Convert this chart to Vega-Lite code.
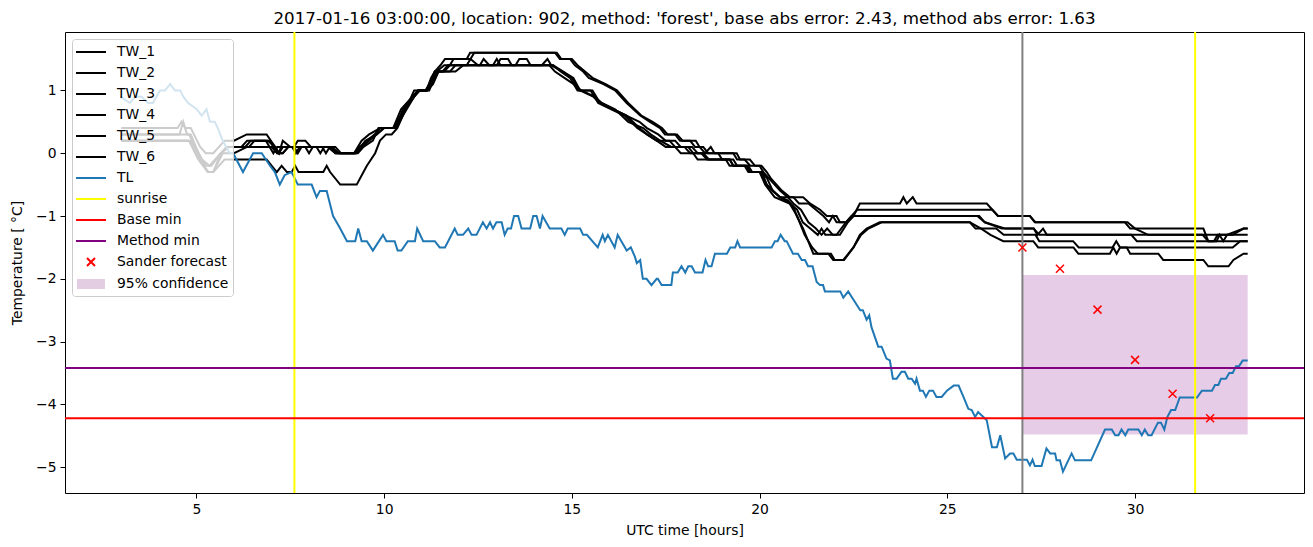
{
  "$schema": "https://vega.github.io/schema/vega-lite/v6.json",
  "width": 1239,
  "height": 461,
  "autosize": {"type": "none"},
  "padding": {"left": 65, "top": 32, "right": 9, "bottom": 54},
  "title": {"text": "2017-01-16 03:00:00, location: 902, method: 'forest', base abs error: 2.43, method abs error: 1.63", "font": "DejaVu Sans", "fontSize": 16.7, "fontWeight": "normal", "color": "#000", "offset": 3},
  "config": {
    "view": {"stroke": "#000", "strokeWidth": 1},
    "axis": {"domain": false, "grid": false, "tickColor": "#000", "tickSize": 5, "tickWidth": 1, "labelFont": "DejaVu Sans", "labelFontSize": 13.9, "labelColor": "#000", "labelPadding": 4, "titleFont": "DejaVu Sans", "titleFontSize": 13.9, "titleFontWeight": "normal", "titleColor": "#000"},
    "legend": {"labelFont": "DejaVu Sans", "labelFontSize": 13.9, "labelColor": "#000"}
  },
  "datasets": {
    "tw": [
      {"s":"TW_1","x":3.0,"y":0.4},{"s":"TW_1","x":4.5,"y":0.4},{"s":"TW_1","x":4.6,"y":0.5},{"s":"TW_1","x":4.7,"y":0.4},{"s":"TW_1","x":4.85,"y":0.4},{"s":"TW_1","x":5.1,"y":0.1},{"s":"TW_1","x":5.25,"y":0.0},{"s":"TW_1","x":5.45,"y":0.0},{"s":"TW_1","x":5.75,"y":0.2},{"s":"TW_1","x":6.0,"y":0.2},{"s":"TW_1","x":6.34,"y":0.3},{"s":"TW_1","x":6.87,"y":0.3},{"s":"TW_1","x":7.1,"y":0.1},{"s":"TW_1","x":7.2,"y":0.0},{"s":"TW_1","x":7.3,"y":0.2},{"s":"TW_1","x":7.5,"y":0.1},{"s":"TW_1","x":7.6,"y":0.1},{"s":"TW_1","x":7.7,"y":0.2},{"s":"TW_1","x":7.9,"y":0.2},{"s":"TW_1","x":8.05,"y":0.1},{"s":"TW_1","x":8.6,"y":0.1},{"s":"TW_1","x":8.8,"y":0.0},{"s":"TW_1","x":9.2,"y":0.0},{"s":"TW_1","x":9.4,"y":0.2},{"s":"TW_1","x":9.6,"y":0.3},{"s":"TW_1","x":9.9,"y":0.4},{"s":"TW_1","x":10.24,"y":0.4},{"s":"TW_1","x":10.45,"y":0.7},{"s":"TW_1","x":10.9,"y":1.0},{"s":"TW_1","x":11.13,"y":1.0},{"s":"TW_1","x":11.35,"y":1.3},{"s":"TW_1","x":11.5,"y":1.4},{"s":"TW_1","x":11.62,"y":1.5},{"s":"TW_1","x":12.2,"y":1.5},{"s":"TW_1","x":12.29,"y":1.6},{"s":"TW_1","x":14.55,"y":1.6},{"s":"TW_1","x":14.68,"y":1.5},{"s":"TW_1","x":14.95,"y":1.5},{"s":"TW_1","x":15.08,"y":1.4},{"s":"TW_1","x":15.3,"y":1.3},{"s":"TW_1","x":15.45,"y":1.2},{"s":"TW_1","x":15.84,"y":1.1},{"s":"TW_1","x":16.15,"y":1.0},{"s":"TW_1","x":16.46,"y":0.8},{"s":"TW_1","x":16.82,"y":0.6},{"s":"TW_1","x":17.08,"y":0.5},{"s":"TW_1","x":17.35,"y":0.4},{"s":"TW_1","x":17.48,"y":0.3},{"s":"TW_1","x":17.75,"y":0.3},{"s":"TW_1","x":17.88,"y":0.2},{"s":"TW_1","x":18.15,"y":0.2},{"s":"TW_1","x":18.28,"y":0.1},{"s":"TW_1","x":18.5,"y":0.1},{"s":"TW_1","x":18.63,"y":0.0},{"s":"TW_1","x":19.39,"y":0.0},{"s":"TW_1","x":19.48,"y":-0.1},{"s":"TW_1","x":19.74,"y":-0.1},{"s":"TW_1","x":19.88,"y":-0.2},{"s":"TW_1","x":20.05,"y":-0.2},{"s":"TW_1","x":20.19,"y":-0.3},{"s":"TW_1","x":20.3,"y":-0.4},{"s":"TW_1","x":20.45,"y":-0.5},{"s":"TW_1","x":20.6,"y":-0.6},{"s":"TW_1","x":20.81,"y":-0.7},{"s":"TW_1","x":21.16,"y":-0.7},{"s":"TW_1","x":21.34,"y":-0.8},{"s":"TW_1","x":21.61,"y":-0.9},{"s":"TW_1","x":21.79,"y":-1.0},{"s":"TW_1","x":22.05,"y":-1.0},{"s":"TW_1","x":22.14,"y":-1.1},{"s":"TW_1","x":22.32,"y":-1.1},{"s":"TW_1","x":22.5,"y":-1.0},{"s":"TW_1","x":22.67,"y":-0.8},{"s":"TW_1","x":23.74,"y":-0.8},{"s":"TW_1","x":23.83,"y":-0.7},{"s":"TW_1","x":23.92,"y":-0.8},{"s":"TW_1","x":24.08,"y":-0.7},{"s":"TW_1","x":24.18,"y":-0.8},{"s":"TW_1","x":26.05,"y":-0.8},{"s":"TW_1","x":26.2,"y":-0.9},{"s":"TW_1","x":26.35,"y":-1.0},{"s":"TW_1","x":27.2,"y":-1.0},{"s":"TW_1","x":27.33,"y":-1.1},{"s":"TW_1","x":29.73,"y":-1.1},{"s":"TW_1","x":29.87,"y":-1.2},{"s":"TW_1","x":31.82,"y":-1.2},{"s":"TW_1","x":31.95,"y":-1.4},{"s":"TW_1","x":32.17,"y":-1.4},{"s":"TW_1","x":32.25,"y":-1.3},{"s":"TW_1","x":32.35,"y":-1.4},{"s":"TW_1","x":32.45,"y":-1.3},{"s":"TW_1","x":32.89,"y":-1.2},{"s":"TW_1","x":33.0,"y":-1.2},
      {"s":"TW_2","x":3.0,"y":0.3},{"s":"TW_2","x":4.8,"y":0.3},{"s":"TW_2","x":5.15,"y":-0.1},{"s":"TW_2","x":5.35,"y":-0.2},{"s":"TW_2","x":5.5,"y":-0.1},{"s":"TW_2","x":5.8,"y":0.1},{"s":"TW_2","x":6.0,"y":0.1},{"s":"TW_2","x":6.2,"y":0.1},{"s":"TW_2","x":6.35,"y":0.2},{"s":"TW_2","x":6.95,"y":0.2},{"s":"TW_2","x":7.15,"y":0.0},{"s":"TW_2","x":7.3,"y":0.0},{"s":"TW_2","x":7.45,"y":0.1},{"s":"TW_2","x":7.9,"y":0.1},{"s":"TW_2","x":8.0,"y":0.0},{"s":"TW_2","x":8.1,"y":0.1},{"s":"TW_2","x":8.5,"y":0.1},{"s":"TW_2","x":8.7,"y":0.0},{"s":"TW_2","x":9.25,"y":0.0},{"s":"TW_2","x":9.5,"y":0.2},{"s":"TW_2","x":9.8,"y":0.3},{"s":"TW_2","x":10.0,"y":0.4},{"s":"TW_2","x":10.3,"y":0.4},{"s":"TW_2","x":10.5,"y":0.7},{"s":"TW_2","x":10.8,"y":0.9},{"s":"TW_2","x":10.95,"y":1.0},{"s":"TW_2","x":11.2,"y":1.0},{"s":"TW_2","x":11.4,"y":1.3},{"s":"TW_2","x":11.6,"y":1.4},{"s":"TW_2","x":11.75,"y":1.4},{"s":"TW_2","x":11.85,"y":1.5},{"s":"TW_2","x":12.3,"y":1.5},{"s":"TW_2","x":12.4,"y":1.6},{"s":"TW_2","x":14.6,"y":1.6},{"s":"TW_2","x":14.72,"y":1.5},{"s":"TW_2","x":15.0,"y":1.5},{"s":"TW_2","x":15.15,"y":1.4},{"s":"TW_2","x":15.35,"y":1.3},{"s":"TW_2","x":15.55,"y":1.2},{"s":"TW_2","x":15.9,"y":1.1},{"s":"TW_2","x":16.2,"y":1.0},{"s":"TW_2","x":16.5,"y":0.8},{"s":"TW_2","x":16.85,"y":0.6},{"s":"TW_2","x":17.15,"y":0.5},{"s":"TW_2","x":17.4,"y":0.4},{"s":"TW_2","x":17.55,"y":0.3},{"s":"TW_2","x":17.8,"y":0.3},{"s":"TW_2","x":17.95,"y":0.2},{"s":"TW_2","x":18.3,"y":0.2},{"s":"TW_2","x":18.4,"y":0.1},{"s":"TW_2","x":18.55,"y":0.0},{"s":"TW_2","x":18.7,"y":0.1},{"s":"TW_2","x":18.8,"y":0.0},{"s":"TW_2","x":19.3,"y":0.0},{"s":"TW_2","x":19.4,"y":-0.1},{"s":"TW_2","x":19.6,"y":-0.1},{"s":"TW_2","x":19.75,"y":-0.2},{"s":"TW_2","x":20.0,"y":-0.2},{"s":"TW_2","x":20.1,"y":-0.3},{"s":"TW_2","x":20.25,"y":-0.4},{"s":"TW_2","x":20.4,"y":-0.5},{"s":"TW_2","x":20.55,"y":-0.6},{"s":"TW_2","x":20.75,"y":-0.7},{"s":"TW_2","x":20.9,"y":-0.7},{"s":"TW_2","x":21.05,"y":-0.8},{"s":"TW_2","x":21.3,"y":-0.8},{"s":"TW_2","x":21.5,"y":-0.9},{"s":"TW_2","x":21.7,"y":-1.0},{"s":"TW_2","x":21.85,"y":-1.1},{"s":"TW_2","x":21.95,"y":-1.0},{"s":"TW_2","x":22.05,"y":-1.1},{"s":"TW_2","x":22.3,"y":-1.1},{"s":"TW_2","x":22.45,"y":-1.0},{"s":"TW_2","x":22.6,"y":-0.9},{"s":"TW_2","x":26.2,"y":-0.9},{"s":"TW_2","x":26.35,"y":-1.0},{"s":"TW_2","x":27.2,"y":-1.0},{"s":"TW_2","x":27.35,"y":-1.1},{"s":"TW_2","x":29.8,"y":-1.1},{"s":"TW_2","x":30.0,"y":-1.2},{"s":"TW_2","x":30.35,"y":-1.3},{"s":"TW_2","x":32.6,"y":-1.3},{"s":"TW_2","x":32.89,"y":-1.2},{"s":"TW_2","x":33.0,"y":-1.2},
      {"s":"TW_3","x":3.0,"y":0.3},{"s":"TW_3","x":4.55,"y":0.3},{"s":"TW_3","x":4.65,"y":0.5},{"s":"TW_3","x":4.75,"y":0.3},{"s":"TW_3","x":4.85,"y":0.3},{"s":"TW_3","x":5.2,"y":-0.2},{"s":"TW_3","x":5.32,"y":-0.3},{"s":"TW_3","x":5.45,"y":-0.3},{"s":"TW_3","x":5.65,"y":0.0},{"s":"TW_3","x":5.85,"y":0.1},{"s":"TW_3","x":6.0,"y":0.1},{"s":"TW_3","x":6.3,"y":0.1},{"s":"TW_3","x":6.45,"y":0.2},{"s":"TW_3","x":6.9,"y":0.2},{"s":"TW_3","x":7.1,"y":0.1},{"s":"TW_3","x":7.2,"y":0.0},{"s":"TW_3","x":7.3,"y":0.1},{"s":"TW_3","x":7.6,"y":0.1},{"s":"TW_3","x":7.7,"y":0.0},{"s":"TW_3","x":7.8,"y":0.1},{"s":"TW_3","x":8.2,"y":0.1},{"s":"TW_3","x":8.3,"y":0.0},{"s":"TW_3","x":8.4,"y":0.1},{"s":"TW_3","x":8.6,"y":0.1},{"s":"TW_3","x":8.75,"y":0.0},{"s":"TW_3","x":9.2,"y":0.0},{"s":"TW_3","x":9.35,"y":0.1},{"s":"TW_3","x":9.55,"y":0.2},{"s":"TW_3","x":9.75,"y":0.3},{"s":"TW_3","x":9.9,"y":0.4},{"s":"TW_3","x":10.3,"y":0.4},{"s":"TW_3","x":10.5,"y":0.6},{"s":"TW_3","x":10.7,"y":0.8},{"s":"TW_3","x":10.9,"y":1.0},{"s":"TW_3","x":11.1,"y":1.0},{"s":"TW_3","x":11.3,"y":1.2},{"s":"TW_3","x":11.45,"y":1.3},{"s":"TW_3","x":11.75,"y":1.3},{"s":"TW_3","x":11.9,"y":1.4},{"s":"TW_3","x":12.55,"y":1.4},{"s":"TW_3","x":12.65,"y":1.5},{"s":"TW_3","x":12.8,"y":1.4},{"s":"TW_3","x":13.0,"y":1.4},{"s":"TW_3","x":13.1,"y":1.5},{"s":"TW_3","x":13.3,"y":1.5},{"s":"TW_3","x":13.4,"y":1.4},{"s":"TW_3","x":14.2,"y":1.4},{"s":"TW_3","x":14.35,"y":1.5},{"s":"TW_3","x":14.45,"y":1.4},{"s":"TW_3","x":14.75,"y":1.3},{"s":"TW_3","x":15.0,"y":1.2},{"s":"TW_3","x":15.2,"y":1.0},{"s":"TW_3","x":15.55,"y":1.0},{"s":"TW_3","x":15.75,"y":0.8},{"s":"TW_3","x":16.1,"y":0.7},{"s":"TW_3","x":16.45,"y":0.6},{"s":"TW_3","x":16.8,"y":0.5},{"s":"TW_3","x":17.0,"y":0.4},{"s":"TW_3","x":17.3,"y":0.3},{"s":"TW_3","x":17.5,"y":0.2},{"s":"TW_3","x":17.75,"y":0.2},{"s":"TW_3","x":17.9,"y":0.1},{"s":"TW_3","x":18.2,"y":0.1},{"s":"TW_3","x":18.35,"y":0.0},{"s":"TW_3","x":18.9,"y":0.0},{"s":"TW_3","x":19.0,"y":-0.1},{"s":"TW_3","x":19.3,"y":-0.1},{"s":"TW_3","x":19.4,"y":-0.2},{"s":"TW_3","x":19.7,"y":-0.2},{"s":"TW_3","x":19.8,"y":-0.3},{"s":"TW_3","x":20.05,"y":-0.3},{"s":"TW_3","x":20.2,"y":-0.4},{"s":"TW_3","x":20.35,"y":-0.6},{"s":"TW_3","x":20.55,"y":-0.7},{"s":"TW_3","x":20.8,"y":-0.8},{"s":"TW_3","x":21.0,"y":-0.9},{"s":"TW_3","x":21.15,"y":-1.1},{"s":"TW_3","x":21.35,"y":-1.2},{"s":"TW_3","x":21.55,"y":-1.3},{"s":"TW_3","x":21.65,"y":-1.2},{"s":"TW_3","x":21.75,"y":-1.3},{"s":"TW_3","x":22.05,"y":-1.3},{"s":"TW_3","x":22.3,"y":-1.1},{"s":"TW_3","x":22.45,"y":-1.0},{"s":"TW_3","x":25.8,"y":-1.0},{"s":"TW_3","x":26.0,"y":-1.1},{"s":"TW_3","x":26.55,"y":-1.2},{"s":"TW_3","x":27.3,"y":-1.2},{"s":"TW_3","x":27.45,"y":-1.3},{"s":"TW_3","x":29.9,"y":-1.3},{"s":"TW_3","x":30.05,"y":-1.4},{"s":"TW_3","x":33.0,"y":-1.4},
      {"s":"TW_4","x":3.0,"y":0.2},{"s":"TW_4","x":4.85,"y":0.2},{"s":"TW_4","x":5.1,"y":-0.1},{"s":"TW_4","x":5.3,"y":-0.3},{"s":"TW_4","x":5.45,"y":-0.3},{"s":"TW_4","x":5.7,"y":0.0},{"s":"TW_4","x":6.0,"y":0.0},{"s":"TW_4","x":6.35,"y":0.1},{"s":"TW_4","x":7.0,"y":0.1},{"s":"TW_4","x":7.15,"y":0.0},{"s":"TW_4","x":7.3,"y":0.0},{"s":"TW_4","x":7.45,"y":0.1},{"s":"TW_4","x":8.55,"y":0.1},{"s":"TW_4","x":8.7,"y":0.0},{"s":"TW_4","x":9.25,"y":0.0},{"s":"TW_4","x":9.4,"y":0.1},{"s":"TW_4","x":9.6,"y":0.2},{"s":"TW_4","x":9.8,"y":0.3},{"s":"TW_4","x":10.0,"y":0.4},{"s":"TW_4","x":10.3,"y":0.4},{"s":"TW_4","x":10.55,"y":0.7},{"s":"TW_4","x":10.8,"y":0.9},{"s":"TW_4","x":10.95,"y":1.0},{"s":"TW_4","x":11.15,"y":1.0},{"s":"TW_4","x":11.35,"y":1.3},{"s":"TW_4","x":11.55,"y":1.3},{"s":"TW_4","x":11.7,"y":1.4},{"s":"TW_4","x":12.2,"y":1.4},{"s":"TW_4","x":12.3,"y":1.5},{"s":"TW_4","x":12.5,"y":1.4},{"s":"TW_4","x":14.5,"y":1.4},{"s":"TW_4","x":14.7,"y":1.3},{"s":"TW_4","x":14.95,"y":1.2},{"s":"TW_4","x":15.15,"y":1.0},{"s":"TW_4","x":15.5,"y":1.0},{"s":"TW_4","x":15.7,"y":0.8},{"s":"TW_4","x":16.05,"y":0.7},{"s":"TW_4","x":16.4,"y":0.6},{"s":"TW_4","x":16.75,"y":0.4},{"s":"TW_4","x":17.0,"y":0.3},{"s":"TW_4","x":17.26,"y":0.2},{"s":"TW_4","x":17.6,"y":0.2},{"s":"TW_4","x":17.75,"y":0.1},{"s":"TW_4","x":18.1,"y":0.1},{"s":"TW_4","x":18.23,"y":0.0},{"s":"TW_4","x":18.45,"y":0.0},{"s":"TW_4","x":18.6,"y":-0.1},{"s":"TW_4","x":19.2,"y":-0.1},{"s":"TW_4","x":19.3,"y":-0.2},{"s":"TW_4","x":19.66,"y":-0.2},{"s":"TW_4","x":19.74,"y":-0.3},{"s":"TW_4","x":20.05,"y":-0.3},{"s":"TW_4","x":20.19,"y":-0.5},{"s":"TW_4","x":20.35,"y":-0.6},{"s":"TW_4","x":20.54,"y":-0.7},{"s":"TW_4","x":20.75,"y":-0.7},{"s":"TW_4","x":20.9,"y":-0.8},{"s":"TW_4","x":21.1,"y":-0.9},{"s":"TW_4","x":21.3,"y":-1.1},{"s":"TW_4","x":21.5,"y":-1.2},{"s":"TW_4","x":21.65,"y":-1.3},{"s":"TW_4","x":21.8,"y":-1.2},{"s":"TW_4","x":21.95,"y":-1.3},{"s":"TW_4","x":22.14,"y":-1.3},{"s":"TW_4","x":22.35,"y":-1.1},{"s":"TW_4","x":22.5,"y":-1.0},{"s":"TW_4","x":25.85,"y":-1.0},{"s":"TW_4","x":26.0,"y":-1.1},{"s":"TW_4","x":26.45,"y":-1.2},{"s":"TW_4","x":27.3,"y":-1.2},{"s":"TW_4","x":27.4,"y":-1.3},{"s":"TW_4","x":27.55,"y":-1.2},{"s":"TW_4","x":27.65,"y":-1.3},{"s":"TW_4","x":31.8,"y":-1.3},{"s":"TW_4","x":31.95,"y":-1.4},{"s":"TW_4","x":32.1,"y":-1.4},{"s":"TW_4","x":32.2,"y":-1.3},{"s":"TW_4","x":33.0,"y":-1.3},
      {"s":"TW_5","x":3.0,"y":0.2},{"s":"TW_5","x":4.8,"y":0.2},{"s":"TW_5","x":5.05,"y":0.0},{"s":"TW_5","x":5.25,"y":-0.2},{"s":"TW_5","x":5.4,"y":-0.2},{"s":"TW_5","x":5.65,"y":0.0},{"s":"TW_5","x":5.85,"y":0.1},{"s":"TW_5","x":6.4,"y":0.1},{"s":"TW_5","x":6.55,"y":0.2},{"s":"TW_5","x":6.85,"y":0.2},{"s":"TW_5","x":7.05,"y":0.0},{"s":"TW_5","x":7.15,"y":0.1},{"s":"TW_5","x":7.55,"y":0.1},{"s":"TW_5","x":7.65,"y":0.0},{"s":"TW_5","x":7.75,"y":0.1},{"s":"TW_5","x":8.35,"y":0.1},{"s":"TW_5","x":8.45,"y":0.0},{"s":"TW_5","x":8.55,"y":0.1},{"s":"TW_5","x":8.7,"y":0.1},{"s":"TW_5","x":8.85,"y":0.0},{"s":"TW_5","x":9.3,"y":0.0},{"s":"TW_5","x":9.45,"y":0.1},{"s":"TW_5","x":9.7,"y":0.2},{"s":"TW_5","x":9.85,"y":0.4},{"s":"TW_5","x":10.25,"y":0.4},{"s":"TW_5","x":10.45,"y":0.6},{"s":"TW_5","x":10.65,"y":0.8},{"s":"TW_5","x":10.9,"y":1.0},{"s":"TW_5","x":11.15,"y":1.0},{"s":"TW_5","x":11.3,"y":1.1},{"s":"TW_5","x":11.45,"y":1.3},{"s":"TW_5","x":11.6,"y":1.3},{"s":"TW_5","x":11.75,"y":1.4},{"s":"TW_5","x":12.9,"y":1.4},{"s":"TW_5","x":13.0,"y":1.5},{"s":"TW_5","x":13.1,"y":1.4},{"s":"TW_5","x":13.5,"y":1.4},{"s":"TW_5","x":13.6,"y":1.5},{"s":"TW_5","x":13.8,"y":1.5},{"s":"TW_5","x":13.9,"y":1.4},{"s":"TW_5","x":14.4,"y":1.4},{"s":"TW_5","x":14.55,"y":1.3},{"s":"TW_5","x":14.8,"y":1.2},{"s":"TW_5","x":15.05,"y":1.1},{"s":"TW_5","x":15.25,"y":1.0},{"s":"TW_5","x":15.6,"y":0.9},{"s":"TW_5","x":15.8,"y":0.8},{"s":"TW_5","x":16.15,"y":0.7},{"s":"TW_5","x":16.5,"y":0.5},{"s":"TW_5","x":16.9,"y":0.4},{"s":"TW_5","x":17.1,"y":0.3},{"s":"TW_5","x":17.35,"y":0.2},{"s":"TW_5","x":17.65,"y":0.1},{"s":"TW_5","x":18.0,"y":0.1},{"s":"TW_5","x":18.15,"y":0.0},{"s":"TW_5","x":18.5,"y":0.0},{"s":"TW_5","x":18.65,"y":-0.1},{"s":"TW_5","x":19.1,"y":-0.1},{"s":"TW_5","x":19.2,"y":-0.2},{"s":"TW_5","x":19.6,"y":-0.2},{"s":"TW_5","x":19.7,"y":-0.3},{"s":"TW_5","x":20.0,"y":-0.3},{"s":"TW_5","x":20.15,"y":-0.5},{"s":"TW_5","x":20.4,"y":-0.7},{"s":"TW_5","x":20.8,"y":-0.8},{"s":"TW_5","x":21.0,"y":-1.0},{"s":"TW_5","x":21.2,"y":-1.3},{"s":"TW_5","x":21.4,"y":-1.5},{"s":"TW_5","x":21.55,"y":-1.6},{"s":"TW_5","x":21.9,"y":-1.6},{"s":"TW_5","x":22.0,"y":-1.7},{"s":"TW_5","x":22.25,"y":-1.7},{"s":"TW_5","x":22.5,"y":-1.5},{"s":"TW_5","x":22.7,"y":-1.3},{"s":"TW_5","x":22.9,"y":-1.2},{"s":"TW_5","x":23.25,"y":-1.1},{"s":"TW_5","x":25.6,"y":-1.1},{"s":"TW_5","x":25.75,"y":-1.2},{"s":"TW_5","x":26.3,"y":-1.2},{"s":"TW_5","x":26.5,"y":-1.3},{"s":"TW_5","x":27.35,"y":-1.3},{"s":"TW_5","x":27.45,"y":-1.4},{"s":"TW_5","x":28.35,"y":-1.4},{"s":"TW_5","x":28.5,"y":-1.5},{"s":"TW_5","x":29.4,"y":-1.5},{"s":"TW_5","x":29.5,"y":-1.4},{"s":"TW_5","x":29.6,"y":-1.5},{"s":"TW_5","x":32.6,"y":-1.5},{"s":"TW_5","x":32.8,"y":-1.4},{"s":"TW_5","x":33.0,"y":-1.4},
      {"s":"TW_6","x":3.0,"y":0.2},{"s":"TW_6","x":4.8,"y":0.2},{"s":"TW_6","x":5.05,"y":-0.1},{"s":"TW_6","x":5.3,"y":-0.3},{"s":"TW_6","x":5.45,"y":-0.3},{"s":"TW_6","x":5.75,"y":-0.1},{"s":"TW_6","x":6.87,"y":-0.1},{"s":"TW_6","x":7.14,"y":-0.3},{"s":"TW_6","x":7.27,"y":-0.2},{"s":"TW_6","x":7.41,"y":-0.3},{"s":"TW_6","x":7.54,"y":-0.3},{"s":"TW_6","x":7.63,"y":-0.2},{"s":"TW_6","x":7.72,"y":-0.3},{"s":"TW_6","x":8.38,"y":-0.3},{"s":"TW_6","x":8.47,"y":-0.2},{"s":"TW_6","x":8.56,"y":-0.3},{"s":"TW_6","x":8.83,"y":-0.5},{"s":"TW_6","x":9.27,"y":-0.5},{"s":"TW_6","x":9.45,"y":-0.3},{"s":"TW_6","x":9.54,"y":-0.2},{"s":"TW_6","x":9.76,"y":0.0},{"s":"TW_6","x":9.89,"y":0.2},{"s":"TW_6","x":10.05,"y":0.3},{"s":"TW_6","x":10.2,"y":0.3},{"s":"TW_6","x":10.35,"y":0.4},{"s":"TW_6","x":10.5,"y":0.6},{"s":"TW_6","x":10.65,"y":0.8},{"s":"TW_6","x":10.8,"y":1.0},{"s":"TW_6","x":11.13,"y":1.0},{"s":"TW_6","x":11.25,"y":1.2},{"s":"TW_6","x":11.35,"y":1.3},{"s":"TW_6","x":11.9,"y":1.3},{"s":"TW_6","x":12.11,"y":1.4},{"s":"TW_6","x":14.5,"y":1.4},{"s":"TW_6","x":14.77,"y":1.3},{"s":"TW_6","x":15.04,"y":1.2},{"s":"TW_6","x":15.22,"y":1.0},{"s":"TW_6","x":15.57,"y":0.9},{"s":"TW_6","x":15.75,"y":0.8},{"s":"TW_6","x":16.1,"y":0.7},{"s":"TW_6","x":16.46,"y":0.6},{"s":"TW_6","x":16.8,"y":0.4},{"s":"TW_6","x":17.0,"y":0.3},{"s":"TW_6","x":17.26,"y":0.2},{"s":"TW_6","x":17.5,"y":0.1},{"s":"TW_6","x":17.75,"y":0.1},{"s":"TW_6","x":17.9,"y":0.0},{"s":"TW_6","x":18.23,"y":0.0},{"s":"TW_6","x":18.35,"y":-0.1},{"s":"TW_6","x":19.21,"y":-0.1},{"s":"TW_6","x":19.3,"y":-0.2},{"s":"TW_6","x":19.66,"y":-0.2},{"s":"TW_6","x":19.74,"y":-0.3},{"s":"TW_6","x":20.05,"y":-0.3},{"s":"TW_6","x":20.19,"y":-0.5},{"s":"TW_6","x":20.37,"y":-0.6},{"s":"TW_6","x":20.54,"y":-0.7},{"s":"TW_6","x":20.75,"y":-0.75},{"s":"TW_6","x":20.9,"y":-0.85},{"s":"TW_6","x":20.99,"y":-1.0},{"s":"TW_6","x":21.16,"y":-1.2},{"s":"TW_6","x":21.43,"y":-1.6},{"s":"TW_6","x":21.83,"y":-1.6},{"s":"TW_6","x":21.96,"y":-1.7},{"s":"TW_6","x":22.23,"y":-1.7},{"s":"TW_6","x":22.5,"y":-1.5},{"s":"TW_6","x":22.67,"y":-1.3},{"s":"TW_6","x":22.85,"y":-1.2},{"s":"TW_6","x":23.2,"y":-1.1},{"s":"TW_6","x":25.6,"y":-1.1},{"s":"TW_6","x":25.9,"y":-1.2},{"s":"TW_6","x":26.15,"y":-1.3},{"s":"TW_6","x":26.49,"y":-1.4},{"s":"TW_6","x":27.29,"y":-1.4},{"s":"TW_6","x":27.42,"y":-1.5},{"s":"TW_6","x":28.36,"y":-1.5},{"s":"TW_6","x":28.49,"y":-1.6},{"s":"TW_6","x":29.33,"y":-1.6},{"s":"TW_6","x":29.42,"y":-1.5},{"s":"TW_6","x":29.51,"y":-1.6},{"s":"TW_6","x":29.6,"y":-1.5},{"s":"TW_6","x":29.78,"y":-1.5},{"s":"TW_6","x":29.87,"y":-1.6},{"s":"TW_6","x":30.62,"y":-1.6},{"s":"TW_6","x":30.75,"y":-1.7},{"s":"TW_6","x":31.82,"y":-1.7},{"s":"TW_6","x":31.95,"y":-1.8},{"s":"TW_6","x":32.49,"y":-1.8},{"s":"TW_6","x":32.62,"y":-1.7},{"s":"TW_6","x":32.89,"y":-1.6},{"s":"TW_6","x":33.0,"y":-1.6}
    ],
    "tl": [
      {"x":2.97,"y":0.9},{"x":3.23,"y":0.8},{"x":3.37,"y":0.9},{"x":3.54,"y":0.9},{"x":3.71,"y":0.8},{"x":3.84,"y":0.8},{"x":4.03,"y":1.0},{"x":4.16,"y":1.0},{"x":4.3,"y":1.1},{"x":4.43,"y":1.0},{"x":4.57,"y":1.0},{"x":4.65,"y":0.9},{"x":4.78,"y":0.8},{"x":5.01,"y":0.7},{"x":5.14,"y":0.6},{"x":5.27,"y":0.7},{"x":5.36,"y":0.5},{"x":5.49,"y":0.5},{"x":5.57,"y":0.4},{"x":5.7,"y":0.2},{"x":5.89,"y":0.0},{"x":5.98,"y":0.0},{"x":6.24,"y":-0.3},{"x":6.51,"y":0.0},{"x":6.74,"y":0.0},{"x":6.96,"y":-0.2},{"x":7.09,"y":-0.3},{"x":7.22,"y":-0.5},{"x":7.35,"y":-0.35},{"x":7.53,"y":-0.3},{"x":7.62,"y":-0.4},{"x":7.7,"y":-0.5},{"x":8.07,"y":-0.5},{"x":8.2,"y":-0.7},{"x":8.29,"y":-0.6},{"x":8.47,"y":-0.6},{"x":8.64,"y":-1.0},{"x":8.83,"y":-1.2},{"x":9.01,"y":-1.4},{"x":9.23,"y":-1.4},{"x":9.31,"y":-1.2},{"x":9.4,"y":-1.4},{"x":9.54,"y":-1.4},{"x":9.7,"y":-1.55},{"x":9.97,"y":-1.3},{"x":10.06,"y":-1.4},{"x":10.28,"y":-1.4},{"x":10.36,"y":-1.55},{"x":10.46,"y":-1.55},{"x":10.63,"y":-1.4},{"x":10.82,"y":-1.4},{"x":10.88,"y":-1.2},{"x":11.04,"y":-1.4},{"x":11.35,"y":-1.4},{"x":11.48,"y":-1.5},{"x":11.62,"y":-1.5},{"x":11.88,"y":-1.2},{"x":11.96,"y":-1.3},{"x":12.1,"y":-1.3},{"x":12.24,"y":-1.2},{"x":12.33,"y":-1.3},{"x":12.46,"y":-1.3},{"x":12.63,"y":-1.1},{"x":12.73,"y":-1.2},{"x":12.82,"y":-1.1},{"x":12.9,"y":-1.2},{"x":12.99,"y":-1.1},{"x":13.13,"y":-1.1},{"x":13.21,"y":-1.3},{"x":13.29,"y":-1.2},{"x":13.38,"y":-1.2},{"x":13.46,"y":-1.0},{"x":13.57,"y":-1.0},{"x":13.66,"y":-1.2},{"x":13.89,"y":-1.2},{"x":13.97,"y":-1.0},{"x":14.06,"y":-1.0},{"x":14.15,"y":-1.2},{"x":14.22,"y":-1.0},{"x":14.41,"y":-1.2},{"x":14.72,"y":-1.2},{"x":14.81,"y":-1.3},{"x":14.89,"y":-1.2},{"x":15.22,"y":-1.2},{"x":15.3,"y":-1.3},{"x":15.4,"y":-1.3},{"x":15.69,"y":-1.5},{"x":15.82,"y":-1.3},{"x":15.88,"y":-1.4},{"x":15.96,"y":-1.3},{"x":16.14,"y":-1.5},{"x":16.22,"y":-1.3},{"x":16.46,"y":-1.55},{"x":16.57,"y":-1.5},{"x":16.68,"y":-1.65},{"x":16.73,"y":-1.75},{"x":16.82,"y":-1.7},{"x":16.89,"y":-2.0},{"x":16.99,"y":-2.0},{"x":17.12,"y":-2.1},{"x":17.26,"y":-2.0},{"x":17.29,"y":-2.0},{"x":17.39,"y":-2.1},{"x":17.65,"y":-2.1},{"x":17.69,"y":-1.9},{"x":17.82,"y":-1.9},{"x":17.92,"y":-1.8},{"x":18.02,"y":-1.9},{"x":18.1,"y":-1.8},{"x":18.19,"y":-1.8},{"x":18.28,"y":-1.9},{"x":18.48,"y":-1.9},{"x":18.56,"y":-1.7},{"x":18.63,"y":-1.8},{"x":18.72,"y":-1.8},{"x":18.81,"y":-1.6},{"x":19.13,"y":-1.6},{"x":19.22,"y":-1.5},{"x":19.35,"y":-1.5},{"x":19.41,"y":-1.4},{"x":19.48,"y":-1.5},{"x":20.32,"y":-1.5},{"x":20.41,"y":-1.4},{"x":20.48,"y":-1.4},{"x":20.56,"y":-1.3},{"x":20.67,"y":-1.4},{"x":20.72,"y":-1.4},{"x":20.89,"y":-1.6},{"x":21.02,"y":-1.6},{"x":21.12,"y":-1.7},{"x":21.21,"y":-1.7},{"x":21.29,"y":-1.8},{"x":21.41,"y":-1.8},{"x":21.52,"y":-2.05},{"x":21.61,"y":-2.1},{"x":21.69,"y":-2.1},{"x":21.74,"y":-2.2},{"x":22.15,"y":-2.2},{"x":22.23,"y":-2.3},{"x":22.36,"y":-2.2},{"x":22.68,"y":-2.5},{"x":22.75,"y":-2.5},{"x":22.85,"y":-2.65},{"x":22.92,"y":-2.58},{"x":22.98,"y":-2.77},{"x":23.16,"y":-3.08},{"x":23.25,"y":-3.08},{"x":23.38,"y":-3.27},{"x":23.47,"y":-3.3},{"x":23.55,"y":-3.59},{"x":23.65,"y":-3.59},{"x":23.78,"y":-3.48},{"x":23.87,"y":-3.48},{"x":23.96,"y":-3.59},{"x":24.05,"y":-3.59},{"x":24.14,"y":-3.67},{"x":24.18,"y":-3.59},{"x":24.27,"y":-3.78},{"x":24.35,"y":-3.78},{"x":24.43,"y":-3.88},{"x":24.52,"y":-3.78},{"x":24.62,"y":-3.78},{"x":24.71,"y":-3.88},{"x":24.85,"y":-3.88},{"x":24.99,"y":-3.78},{"x":25.17,"y":-3.7},{"x":25.3,"y":-3.7},{"x":25.43,"y":-3.88},{"x":25.56,"y":-4.07},{"x":25.65,"y":-4.09},{"x":25.74,"y":-4.2},{"x":25.82,"y":-4.12},{"x":25.96,"y":-4.2},{"x":26.05,"y":-4.25},{"x":26.19,"y":-4.68},{"x":26.32,"y":-4.68},{"x":26.41,"y":-4.49},{"x":26.54,"y":-4.86},{"x":26.67,"y":-4.78},{"x":26.76,"y":-4.78},{"x":26.85,"y":-4.88},{"x":27.12,"y":-4.88},{"x":27.2,"y":-4.97},{"x":27.27,"y":-4.88},{"x":27.33,"y":-4.98},{"x":27.51,"y":-4.98},{"x":27.64,"y":-4.7},{"x":27.74,"y":-4.78},{"x":27.87,"y":-4.78},{"x":27.91,"y":-4.89},{"x":28.0,"y":-4.89},{"x":28.08,"y":-5.07},{"x":28.31,"y":-4.78},{"x":28.4,"y":-4.89},{"x":28.83,"y":-4.89},{"x":29.2,"y":-4.4},{"x":29.38,"y":-4.4},{"x":29.47,"y":-4.49},{"x":29.56,"y":-4.49},{"x":29.64,"y":-4.4},{"x":29.74,"y":-4.49},{"x":29.82,"y":-4.4},{"x":30.09,"y":-4.4},{"x":30.18,"y":-4.49},{"x":30.26,"y":-4.4},{"x":30.35,"y":-4.49},{"x":30.44,"y":-4.49},{"x":30.61,"y":-4.29},{"x":30.69,"y":-4.29},{"x":30.78,"y":-4.4},{"x":30.86,"y":-4.2},{"x":30.96,"y":-4.09},{"x":31.07,"y":-4.09},{"x":31.19,"y":-3.89},{"x":31.65,"y":-3.89},{"x":31.78,"y":-3.78},{"x":32.05,"y":-3.78},{"x":32.13,"y":-3.69},{"x":32.22,"y":-3.69},{"x":32.29,"y":-3.59},{"x":32.42,"y":-3.59},{"x":32.51,"y":-3.5},{"x":32.6,"y":-3.5},{"x":32.69,"y":-3.39},{"x":32.77,"y":-3.39},{"x":32.87,"y":-3.3},{"x":33.0,"y":-3.3}
    ]
  },
  "layer": [
    {
      "data": {"values": [{"x0": 27, "x1": 33, "y0": -4.48, "y1": -1.94}]},
      "mark": {"type": "rect", "color": "#800080", "opacity": 0.2},
      "encoding": {
        "x": {"field": "x0", "type": "quantitative", "scale": {"domain": [1.5, 34.5], "nice": false, "zero": false}, "axis": {"values": [5, 10, 15, 20, 25, 30], "title": "UTC time [hours]", "titlePadding": 8}},
        "x2": {"field": "x1"},
        "y": {"field": "y0", "type": "quantitative", "scale": {"domain": [-5.41, 1.93], "nice": false, "zero": false}, "axis": {"values": [-5, -4, -3, -2, -1, 0, 1], "format": "d", "title": "Temperature [ °C]", "titlePadding": 11}},
        "y2": {"field": "y1"}
      }
    },
    {
      "data": {"name": "tw"},
      "mark": {"type": "line", "color": "#000000", "strokeWidth": 2},
      "encoding": {
        "x": {"field": "x", "type": "quantitative"},
        "y": {"field": "y", "type": "quantitative"},
        "detail": {"field": "s", "type": "nominal"}
      }
    },
    {
      "data": {"name": "tl"},
      "mark": {"type": "line", "color": "#1f77b4", "strokeWidth": 2},
      "encoding": {
        "x": {"field": "x", "type": "quantitative"},
        "y": {"field": "y", "type": "quantitative"}
      }
    },
    {
      "data": {"values": [{"x": 7.61}, {"x": 31.6}]},
      "mark": {"type": "rule", "color": "#ffff00", "strokeWidth": 2},
      "encoding": {"x": {"field": "x", "type": "quantitative"}}
    },
    {
      "data": {"values": [{"x": 27}]},
      "mark": {"type": "rule", "color": "#808080", "strokeWidth": 2},
      "encoding": {"x": {"field": "x", "type": "quantitative"}}
    },
    {
      "data": {"values": [{"y": -4.22}]},
      "mark": {"type": "rule", "color": "#ff0000", "strokeWidth": 2},
      "encoding": {"y": {"field": "y", "type": "quantitative"}}
    },
    {
      "data": {"values": [{"y": -3.42}]},
      "mark": {"type": "rule", "color": "#800080", "strokeWidth": 2},
      "encoding": {"y": {"field": "y", "type": "quantitative"}}
    },
    {
      "data": {"values": [
        {"s": "Sander forecast", "x": 27, "y": -1.5},
        {"s": "Sander forecast", "x": 28, "y": -1.84},
        {"s": "Sander forecast", "x": 29, "y": -2.49},
        {"s": "Sander forecast", "x": 30, "y": -3.29},
        {"s": "Sander forecast", "x": 31, "y": -3.83},
        {"s": "Sander forecast", "x": 32, "y": -4.22}
      ]},
      "mark": {"type": "point", "filled": false, "size": 256, "strokeWidth": 1.5, "opacity": 1},
      "encoding": {
        "x": {"field": "x", "type": "quantitative"},
        "y": {"field": "y", "type": "quantitative"},
        "color": {"field": "s", "type": "nominal",
          "scale": {"domain": ["TW_1", "TW_2", "TW_3", "TW_4", "TW_5", "TW_6", "TL", "sunrise", "Base min", "Method min", "Sander forecast", "95% confidence"],
                    "range": ["#000000", "#000000", "#000000", "#000000", "#000000", "#000000", "#1f77b4", "#ffff00", "#ff0000", "#800080", "#ff0000", "#e3cde3"]},
          "legend": {"title": null, "orient": "top-left", "offset": 7, "padding": 4, "fillColor": "rgba(255,255,255,0.8)", "strokeColor": "#cccccc", "cornerRadius": 3, "symbolSize": 256, "symbolStrokeWidth": 2, "symbolOffset": 6, "labelOffset": 17, "rowPadding": 5}},
        "shape": {"field": "s", "type": "nominal",
          "scale": {"domain": ["TW_1", "TW_2", "TW_3", "TW_4", "TW_5", "TW_6", "TL", "sunrise", "Base min", "Method min", "Sander forecast", "95% confidence"],
                    "range": ["M-1.875,0L1.875,0", "M-1.875,0L1.875,0", "M-1.875,0L1.875,0", "M-1.875,0L1.875,0", "M-1.875,0L1.875,0", "M-1.875,0L1.875,0", "M-1.875,0L1.875,0", "M-1.875,0L1.875,0", "M-1.875,0L1.875,0", "M-1.875,0L1.875,0", "M-0.5,-0.5L0.5,0.5M-0.5,0.5L0.5,-0.5", "M-1.75,-0.5L1.75,-0.5M-1.75,-0.25L1.75,-0.25M-1.75,0L1.75,0M-1.75,0.25L1.75,0.25M-1.75,0.5L1.75,0.5"]}}
      }
    }
  ]
}
